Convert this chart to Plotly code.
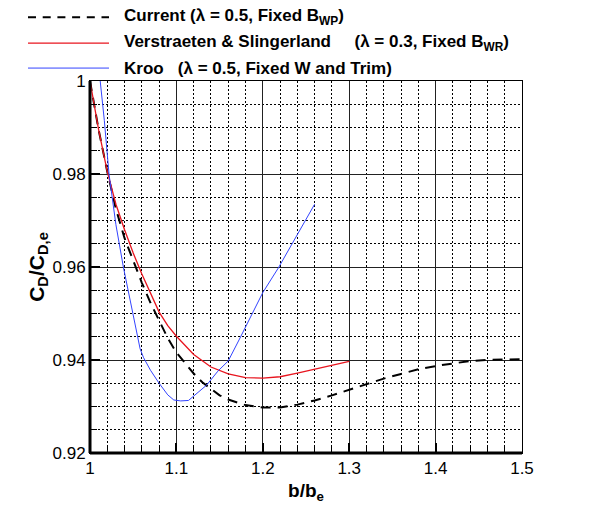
import plotly.graph_objects as go

# ---------------- data ----------------
current_x = [1.0, 1.01, 1.02, 1.03, 1.04, 1.05, 1.06, 1.07, 1.08, 1.09, 1.10, 1.11, 1.12, 1.13,
             1.14, 1.15, 1.16, 1.18, 1.20, 1.22, 1.24, 1.26, 1.28, 1.30, 1.32, 1.34, 1.36,
             1.38, 1.40, 1.42, 1.44, 1.46, 1.48, 1.50]
current_y = [1.0, 0.9895, 0.9805, 0.9725, 0.9662, 0.9613, 0.9566, 0.9523, 0.9484, 0.9447,
             0.9416, 0.9393, 0.9371, 0.9352, 0.9337, 0.9324, 0.9315, 0.9303, 0.9298, 0.9298,
             0.9304, 0.9313, 0.9324, 0.9336, 0.9349, 0.9360, 0.9370, 0.9380, 0.9387,
             0.9393, 0.9398, 0.9400, 0.9401, 0.9402]

vs_x = [1.0, 1.01, 1.02, 1.03, 1.04, 1.05, 1.06, 1.07, 1.08, 1.09, 1.10, 1.12, 1.14, 1.16,
        1.18, 1.20, 1.22, 1.24, 1.26, 1.28, 1.30]
vs_y = [1.0, 0.9895, 0.9805, 0.9735, 0.9680, 0.9630, 0.9585, 0.9543, 0.9503, 0.9474, 0.9451,
        0.9412, 0.9385, 0.9370, 0.9362, 0.9361, 0.9364, 0.9372, 0.9380, 0.9388, 0.9397]

kroo_x = [1.0, 1.0116, 1.0166, 1.022, 1.03, 1.0386, 1.05, 1.058, 1.062, 1.07, 1.08, 1.09,
          1.097, 1.105, 1.114, 1.125, 1.135, 1.148, 1.16, 1.173, 1.20, 1.218, 1.26]
kroo_y = [1.021, 1.0, 0.9915, 0.98, 0.9691, 0.96, 0.95, 0.9424, 0.9405, 0.9378, 0.9350,
          0.9325, 0.9314, 0.9312, 0.9313, 0.9330, 0.9346, 0.9376, 0.9398, 0.9445, 0.9545,
          0.9598, 0.9735]

x_ticks = [1.0, 1.1, 1.2, 1.3, 1.4, 1.5]
x_ticktext = ["1", "1.1", "1.2", "1.3", "1.4", "1.5"]
y_ticks = [0.92, 0.94, 0.96, 0.98, 1.0]
y_ticktext = ["0.92", "0.94", "0.96", "0.98", "1"]

legend_names = ["Current (λ = 0.5, Fixed B<sub>WP</sub>)",
                "Verstraeten & Slingerland&nbsp;&nbsp;&nbsp;&nbsp;&nbsp;(λ = 0.3, Fixed B<sub>WR</sub>)",
                "Kroo&nbsp;&nbsp;&nbsp;(λ = 0.5, Fixed W and Trim)"]

FONT = "Arial, Liberation Sans, sans-serif"

fig = go.Figure()
fig.add_trace(go.Scatter(x=current_x, y=current_y, mode="lines", name="Current",
                         line=dict(color="black", width=2, dash="10px,7px"), showlegend=False))
fig.add_trace(go.Scatter(x=vs_x, y=vs_y, mode="lines", name="Verstraeten & Slingerland",
                         line=dict(color="#e8141e", width=1.3), showlegend=False))
fig.add_trace(go.Scatter(x=kroo_x, y=kroo_y, mode="lines", name="Kroo",
                         line=dict(color="#3344ff", width=1), showlegend=False))

L, R, T, B = 90, 69, 81, 55
W, H = 591, 510
pw, ph = W - L - R, H - T - B

def px2paper(px, py):
    return (px - L) / pw, (H - B - py) / ph

# manual legend
leg_rows = [17, 43, 68]
leg_styles = [dict(color="black", width=2, dash="8px,6.7px"),
              dict(color="#e8141e", width=1.3),
              dict(color="#3344ff", width=1)]
for i, (row, style) in enumerate(zip(leg_rows, leg_styles)):
    x0, y0 = px2paper(28, row)
    x1, _ = px2paper(109, row)
    fig.add_shape(type="line", xref="paper", yref="paper", x0=x0, x1=x1, y0=y0, y1=y0,
                  line=style)
    tx, ty = px2paper(122, row)
    fig.add_annotation(xref="paper", yref="paper", x=tx, y=ty, xanchor="left", yanchor="middle",
                       text="<b>" + legend_names[i] + "</b>", showarrow=False,
                       font=dict(family=FONT, size=17, color="black"))

# thick left and bottom axis lines
fig.add_shape(type="line", xref="paper", yref="paper", x0=0, x1=0, y0=0, y1=1,
              line=dict(color="black", width=3))
fig.add_shape(type="line", xref="paper", yref="paper", x0=0, x1=1, y0=0, y1=0,
              line=dict(color="black", width=3))

axis_common = dict(showline=True, mirror=True, linecolor="black", linewidth=1,
                   showgrid=True, gridcolor="#222", gridwidth=1, zeroline=False,
                   ticks="inside", ticklen=10, tickwidth=2, tickcolor="black",
                   tickfont=dict(family=FONT, size=17, color="black"))

fig.update_xaxes(range=[1.0, 1.5], tickmode="array", tickvals=x_ticks, ticktext=x_ticktext,
                 minor=dict(tickmode="linear", tick0=1.0, dtick=0.02, showgrid=True,
                            gridcolor="black", gridwidth=1, griddash="2px,2px",
                            ticks="inside", ticklen=7, tickwidth=1, tickcolor="black"),
                 title=dict(text="<b>b/b<sub>e</sub></b>", standoff=6,
                            font=dict(family=FONT, size=19, color="black")),
                 **axis_common)
fig.update_yaxes(range=[0.92, 1.0], tickmode="array", tickvals=y_ticks, ticktext=y_ticktext,
                 minor=dict(tickmode="linear", tick0=0.92, dtick=0.005, showgrid=True,
                            gridcolor="black", gridwidth=1, griddash="2px,2px",
                            ticks="inside", ticklen=7, tickwidth=1, tickcolor="black"),
                 title=dict(text="<b>C<sub>D</sub>/C<sub>D,e</sub></b>", standoff=2,
                            font=dict(family=FONT, size=21, color="black")),
                 **axis_common)

fig.update_layout(width=W, height=H, margin=dict(l=L, r=R, t=T, b=B),
                  plot_bgcolor="white", paper_bgcolor="white",
                  font=dict(family=FONT, color="black"))

fig.write_html("out.html")
